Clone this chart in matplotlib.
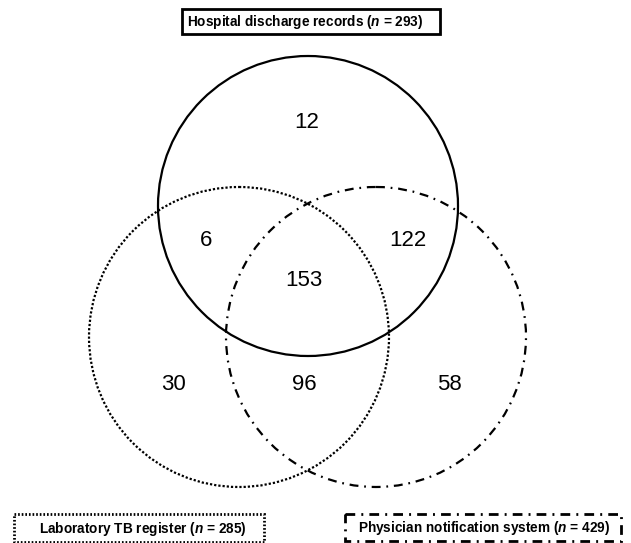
import matplotlib
matplotlib.use('Agg')
import matplotlib.pyplot as plt
from matplotlib.patches import Circle, Rectangle

plt.rcParams['font.family'] = ['Liberation Sans', 'DejaVu Sans']
plt.rcParams['mathtext.fontset'] = 'custom'
plt.rcParams['mathtext.rm'] = 'Liberation Sans:bold'
plt.rcParams['mathtext.it'] = 'Liberation Sans:italic:bold'

### DATA
source_names = ['Hospital discharge records', 'Laboratory TB register', 'Physician notification system']
source_totals = [293, 285, 429]
# region counts: H only, H&L only, H&P only, all three, L only, L&P only, P only
region_names = ['H', 'HL', 'HP', 'HLP', 'L', 'LP', 'P']
region_counts = [12, 6, 122, 153, 30, 96, 58]

### LAYOUT (pixel coords, y down)
circle_centers = [(308, 206), (239, 337), (376, 337)]
circle_radius = 150
circle_styles = ['-', (0, (1, 0.9)), (0, (4, 2.6, 0.8, 2.6))]
region_pos = {'H': (307, 122), 'HL': (206, 240), 'HP': (408, 240), 'HLP': (304, 281),
              'L': (173, 384), 'LP': (304, 384), 'P': (449, 384)}
box_rects = [(182, 9, 258, 25), (14, 514, 250, 28), (345, 514, 276, 27)]
box_styles = ['-', (0, (0.6, 0.7)), (0, (3.5, 2.2, 0.7, 2.2))]
text_x = [187, 39, 358]
text_y = [22, 529, 528]

fig = plt.figure(figsize=(6.31, 5.43), dpi=100)
ax = fig.add_axes([0, 0, 1, 1])
ax.set_xlim(0, 631)
ax.set_ylim(543, 0)
ax.axis('off')

for (cx, cy), ls in zip(circle_centers, circle_styles):
    ax.add_patch(Circle((cx, cy), circle_radius, fill=False, edgecolor='black',
                        linewidth=1.6, linestyle=ls))

for name, count in zip(region_names, region_counts):
    x, y = region_pos[name]
    ax.text(x, y, str(count), fontsize=16, ha='center', va='center')

for (bx, by, bw, bh), ls, tx, ty, name, n in zip(box_rects, box_styles, text_x, text_y,
                                                source_names, source_totals):
    ax.add_patch(Rectangle((bx, by), bw, bh, fill=False, edgecolor='black',
                           linewidth=2.0, linestyle=ls))
    ax.text(tx, ty, name + ' ($n$ = ' + str(n) + ')', fontsize=9.8, fontweight='bold',
            ha='left', va='center')

fig.savefig('out.png', dpi=100)
